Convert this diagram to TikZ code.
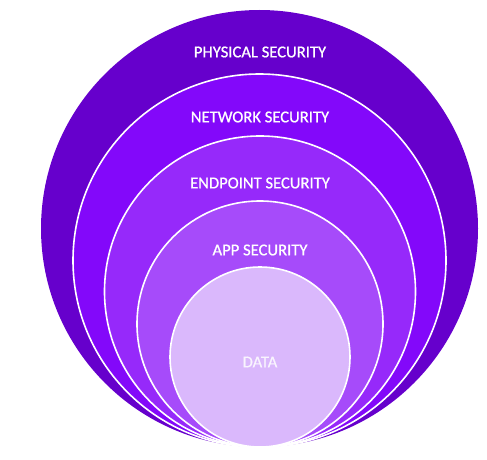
\documentclass[tikz,border=0pt]{standalone}
\usepackage{fontspec}
\setmainfont{Carlito}
\newfontfamily\lblfont{Carlito}[FakeBold=0.8]
\definecolor{cPhys}{HTML}{6600CC}
\definecolor{cNet}{HTML}{8308FA}
\definecolor{cEnd}{HTML}{9629FA}
\definecolor{cApp}{HTML}{A64BFA}
\definecolor{cData}{HTML}{DAB8FC}
\tikzset{
  ring/.style={circle, draw=white, line width=1.6pt, inner sep=0pt},
  lbl/.style={text=white, font=\lblfont\fontsize{16.6}{19}\selectfont, inner sep=0pt}
}
\begin{document}
\begin{tikzpicture}[x=1pt,y=-1pt]
\useasboundingbox (0,0) rectangle (487,460);
\node[circle, fill=cPhys, minimum size=437pt, inner sep=0pt] (phys) at (259.5,228.5) {};
\node[ring, fill=cNet, minimum size=373pt] (net) at (259.5,260.5) {};
\node[ring, fill=cEnd, minimum size=311pt] (end) at (260,291.5) {};
\node[ring, fill=cApp, minimum size=246pt] (app) at (260,324) {};
\node[ring, fill=cData, minimum size=180pt] (data) at (260,357) {};
\node[lbl] (tphys) at (260,52) {PHYSICAL SECURITY};
\node[lbl] (tnet) at (260,117) {NETWORK SECURITY};
\node[lbl] (tend) at (260,183) {ENDPOINT SECURITY};
\node[lbl] (tapp) at (260,250) {APP SECURITY};
\node[lbl, text=white!85!cData] (tdata) at (260,362) {DATA};
\end{tikzpicture}
\end{document}
